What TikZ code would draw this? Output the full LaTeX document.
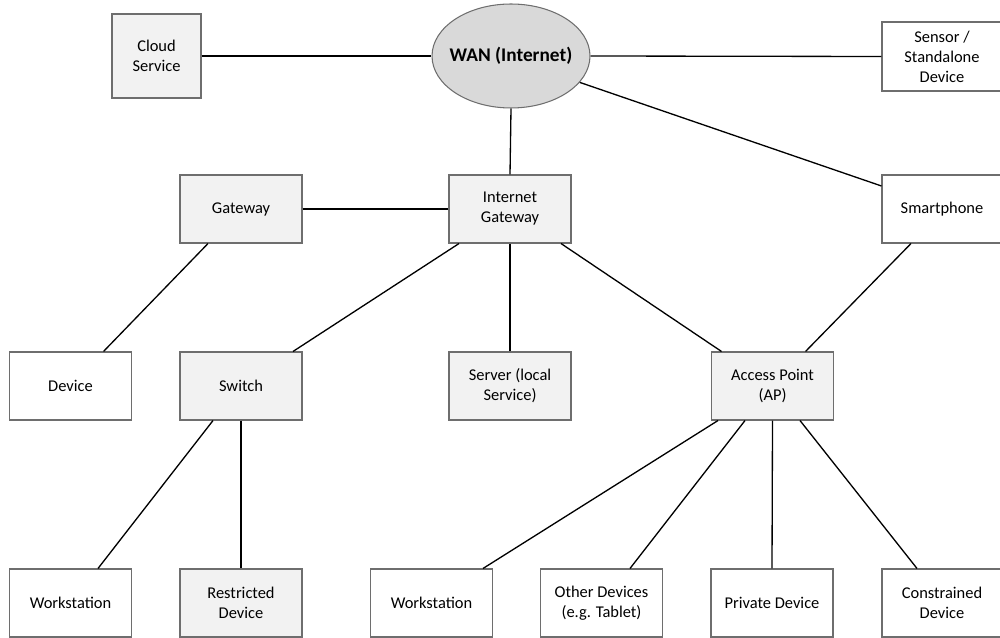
\documentclass[tikz,border=0pt]{standalone}
\usepackage{fontspec}
\setmainfont{Carlito}
\usetikzlibrary{shapes.geometric}
\definecolor{boxgray}{HTML}{F2F2F2}
\definecolor{wangray}{HTML}{D9D9D9}
\definecolor{edgegray}{HTML}{6E6E6E}
\begin{document}
\begin{tikzpicture}[x=0.02cm,y=-0.02cm,
  netbox/.style={draw=edgegray, line width=0.6pt, fill=white, minimum width=2.44cm,
    minimum height=1.36cm, inner sep=0pt, align=center,
    font=\fontsize{9.36}{11.34}\selectfont},
  grbox/.style={netbox, fill=boxgray},
  link/.style={draw=black, line width=0.75pt}]
\useasboundingbox (0,0) rectangle (1000,638);

% top level
\node[ellipse, draw=edgegray, line width=0.6pt, fill=wangray, minimum width=3.16cm,
  minimum height=2.08cm, inner sep=0pt, font=\fontsize{11}{13}\selectfont\bfseries]
  (wan) at (511,56) {\makebox[0pt]{WAN (Internet)}};
\node[grbox, minimum width=1.78cm, minimum height=1.68cm] (cloud) at (156.5,56) {Cloud\\Service};
\node[netbox, minimum width=2.4cm, minimum height=1.38cm] (sensor) at (942,56.5) {Sensor /\\Standalone\\Device};

% second level
\node[grbox] (gw) at (241,209) {Gateway};
\node[grbox] (igw) at (510,209) {Internet\\Gateway};
\node[netbox, minimum width=2.4cm] (phone) at (942,209) {Smartphone};

% third level
\node[netbox] (dev) at (70.5,386) {Device};
\node[grbox] (sw) at (241,386) {Switch};
\node[grbox] (srv) at (510,386) {Server (local\\Service)};
\node[grbox] (ap) at (772.5,386) {Access Point\\(AP)};

% bottom level
\node[netbox] (ws1) at (70.5,603) {Workstation};
\node[grbox] (rd) at (241,603) {Restricted\\Device};
\node[netbox] (ws2) at (431.5,603) {Workstation};
\node[netbox] (oth) at (601.5,603) {Other Devices\\(e.g. Tablet)};
\node[netbox] (prv) at (772,603) {Private Device};
\node[netbox, minimum width=2.4cm] (con) at (942,603) {Constrained\\Device};

% connections
\draw[link] (cloud.east) -- (wan.west);
\draw[link] (wan.east) -- (sensor.west);
\draw[link] (wan.south) -- (igw.north);
\draw[link] (wan.-21) -- ([yshift=0.46cm]phone.west);
\draw[link] (gw.east) -- (igw.west);
\draw[link] ([xshift=-0.66cm]gw.south) -- ([xshift=0.66cm]dev.north);
\draw[link] ([xshift=-1.02cm]igw.south) -- ([xshift=1.04cm]sw.north);
\draw[link] (igw.south) -- (srv.north);
\draw[link] ([xshift=1.02cm]igw.south) -- ([xshift=-1.02cm]ap.north);
\draw[link] ([xshift=-0.62cm]phone.south) -- ([xshift=0.66cm]ap.north);
\draw[link] ([xshift=-0.56cm]sw.south) -- ([xshift=0.55cm]ws1.north);
\draw[link] (sw.south) -- (rd.north);
\draw[link] ([xshift=-1.09cm]ap.south) -- ([xshift=1.03cm]ws2.north);
\draw[link] ([xshift=-0.55cm]ap.south) -- ([xshift=0.57cm]oth.north);
\draw[link] (ap.south) -- (prv.north);
\draw[link] ([xshift=0.55cm]ap.south) -- ([xshift=-0.5cm]con.north);
\end{tikzpicture}
\end{document}
